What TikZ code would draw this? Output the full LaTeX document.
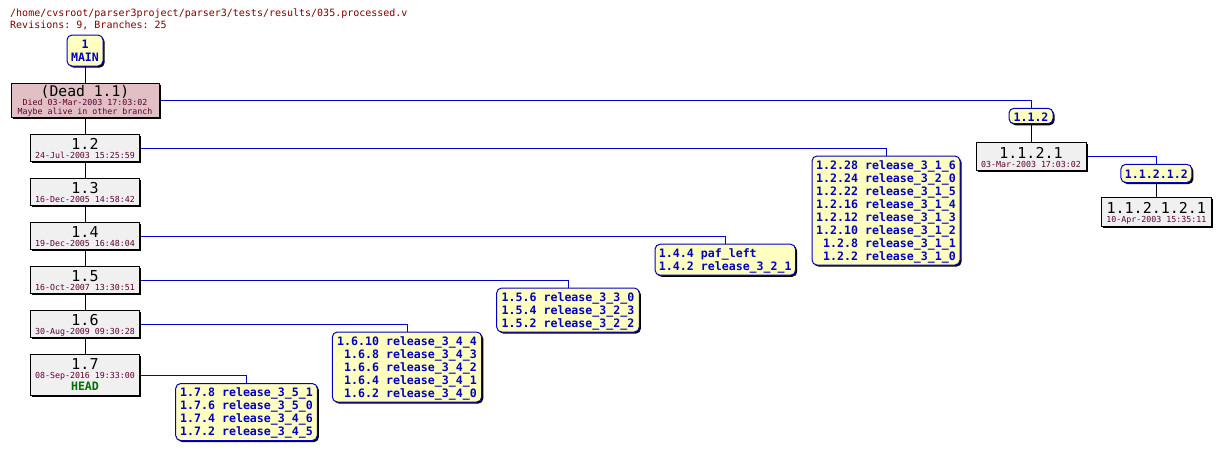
\documentclass[tikz,border=0pt]{standalone}
\usepackage{fontspec}
\setmonofont{DejaVu Sans Mono}
\usetikzlibrary{shadows,backgrounds}
\definecolor{hdrc}{HTML}{800000}
\definecolor{datec}{HTML}{600030}
\definecolor{tagtext}{HTML}{0000C0}
\definecolor{tagline}{HTML}{0000C0}
\definecolor{branchc}{HTML}{0000D0}
\definecolor{tagfill}{HTML}{FFFFC0}
\definecolor{revfill}{HTML}{F0F0F0}
\definecolor{deadfill}{HTML}{E0C0C4}
\definecolor{headc}{HTML}{007000}
\newcommand\rlab[2]{\begin{tabular}[b]{@{}c@{}}{\fontsize{15}{15}\selectfont #1}\\\color{datec}#2\end{tabular}}
\newcommand\tlab[1]{\begin{tabular}[b]{@{}r@{\ }l@{}}#1\end{tabular}}
\tikzset{
  boxbase/.style={inner sep=0pt, line width=1pt,
    drop shadow={shadow xshift=1.6pt, shadow yshift=-1.6pt, fill=black, opacity=1}},
  rev/.style={boxbase, draw=black, fill=revfill, text height=24.7pt, text depth=2.8pt,
    minimum width=108.5pt, font=\ttfamily\fontsize{8.3}{9}\selectfont},
  tag/.style={boxbase, draw=tagline, fill=tagfill, rounded corners=5pt, text=tagtext,
    font=\ttfamily\bfseries\fontsize{11.6}{13}\selectfont},
  hdr/.style={inner sep=0pt, anchor=base west, text=hdrc, font=\ttfamily\fontsize{10}{12}\selectfont},
  trunk/.style={draw=black, line width=1pt},
  branch/.style={draw=branchc, line width=1pt},
}
\begin{document}
\begin{tikzpicture}[x=1pt,y=-1pt]
\useasboundingbox (0,0) rectangle (1221,451);
\node[hdr] (h1) at (10,16) {/home/cvsroot/parser3project/parser3/tests/results/035.processed.v};
\node[hdr] (h2) at (10,28.3) {Revisions: 9, Branches: 25};

% trunk
\node[tag, minimum width=36pt, text height=26.7pt, text depth=4.3pt] (main) at (85,50.5)
  {\begin{tabular}[b]{@{}c@{}}1\\MAIN\end{tabular}};
\node[boxbase, draw=black, fill=deadfill, minimum width=148pt, text height=31.3pt, text depth=2.7pt,
  font=\ttfamily\fontsize{8.3}{8.5}\selectfont, text=datec] (dead) at (85,100)
  {\begin{tabular}[b]{@{}c@{}}{\fontsize{14.7}{15}\selectfont\color{black}(Dead 1.1)}\\Died 03-Mar-2003 17:03:02\\Maybe alive in other branch\end{tabular}};
\node[rev] (r12) at (85,148) {\rlab{1.2}{24-Jul-2003 15:25:59}};
\node[rev] (r13) at (85,192) {\rlab{1.3}{16-Dec-2005 14:58:42}};
\node[rev] (r14) at (85,236) {\rlab{1.4}{19-Dec-2005 16:48:04}};
\node[rev] (r15) at (85,280) {\rlab{1.5}{16-Oct-2007 13:30:51}};
\node[rev] (r16) at (85,324) {\rlab{1.6}{30-Aug-2009 09:30:28}};
\node[rev, text height=36.7pt, text depth=5pt] (r17) at (85,375)
  {\begin{tabular}[b]{@{}c@{}}{\fontsize{15}{15}\selectfont 1.7}\\\color{datec}08-Sep-2016 19:33:00\\[1.5pt]{\bfseries\fontsize{11.6}{13}\selectfont\color{headc}HEAD}\end{tabular}};

% side branch 1.1.2
\node[tag, minimum width=44pt, text height=13.4pt, text depth=2pt] (t112) at (1031,116) {1.1.2};
\node[rev, minimum width=110pt, text height=24.7pt, text depth=3.3pt] (r1121) at (1031,156.3) {\rlab{1.1.2.1}{03-Mar-2003 17:03:02}};
\node[tag, minimum width=71pt, text height=14pt, text depth=4.2pt] (t11212) at (1156.3,173.4) {1.1.2.1.2};
\node[rev, minimum width=110pt, text height=24.7pt, text depth=3.7pt] (r112121) at (1156.3,212) {\rlab{1.1.2.1.2.1}{10-Apr-2003 15:35:11}};

% tag boxes
\node[tag, minimum width=148pt, text height=104.3pt, text depth=4.7pt] (t12) at (886,210.5)
  {\tlab{1.2.28&release\_3\_1\_6\\1.2.24&release\_3\_2\_0\\1.2.22&release\_3\_1\_5\\1.2.16&release\_3\_1\_4\\1.2.12&release\_3\_1\_3\\1.2.10&release\_3\_1\_2\\1.2.8&release\_3\_1\_1\\1.2.2&release\_3\_1\_0}};
\node[tag, minimum width=140.5pt, text height=26.3pt, text depth=4.7pt] (t14) at (725.3,259.7)
  {\tlab{1.4.4&paf\_left\phantom{00000}\\1.4.2&release\_3\_2\_1}};
\node[tag, minimum width=142.6pt, text height=39.3pt, text depth=4.7pt] (t15) at (568,310)
  {\tlab{1.5.6&release\_3\_3\_0\\1.5.4&release\_3\_2\_3\\1.5.2&release\_3\_2\_2}};
\node[tag, minimum width=149.3pt, text height=65.3pt, text depth=4.7pt] (t16) at (407,367)
  {\tlab{1.6.10&release\_3\_4\_4\\1.6.8&release\_3\_4\_3\\1.6.6&release\_3\_4\_2\\1.6.4&release\_3\_4\_1\\1.6.2&release\_3\_4\_0}};
\node[tag, minimum width=141.6pt, text height=52.3pt, text depth=4.7pt] (t17) at (246.5,412)
  {\tlab{1.7.8&release\_3\_5\_1\\1.7.6&release\_3\_5\_0\\1.7.4&release\_3\_4\_6\\1.7.2&release\_3\_4\_5}};

\begin{scope}[on background layer]
\draw[trunk] (main) -- (dead);
\draw[trunk] (dead) -- (r12);
\draw[trunk] (r12) -- (r13);
\draw[trunk] (r13) -- (r14);
\draw[trunk] (r14) -- (r15);
\draw[trunk] (r15) -- (r16);
\draw[trunk] (r16) -- (r17);
\draw[trunk] (t112) -- (r1121);
\draw[trunk] (t11212) -- (r112121);
\draw[branch] (dead.east) -| (t112.north);
\draw[branch] (r1121.east) -| (t11212.north);
\draw[branch] (r12.east) -| (t12.north);
\draw[branch] (r14.east) -| (t14.north);
\draw[branch] (r15.east) -| (t15.north);
\draw[branch] (r16.east) -| (t16.north);
\draw[branch] (r17.east) -| (t17.north);
\end{scope}
\end{tikzpicture}
\end{document}
